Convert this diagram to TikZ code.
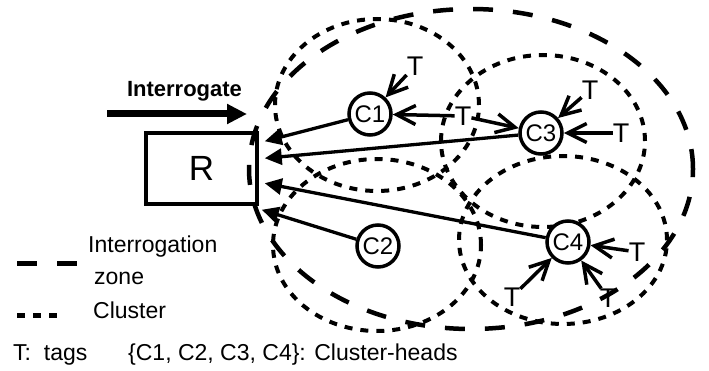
\documentclass[tikz,border=0pt]{standalone}
\usepackage{fontspec}
\setmainfont{Liberation Sans}
\usetikzlibrary{arrows.meta,backgrounds}
\begin{document}
\begin{tikzpicture}[x=1pt,y=-1pt,
  head/.style={circle,draw,line width=3.5pt,minimum size=42pt,inner sep=0pt,fill=white,font=\fontsize{24}{26}\selectfont},
  tag/.style={inner sep=0pt,font=\fontsize{27}{29}\selectfont},
  feed/.style={line width=3.5pt,-{Straight Barb[length=19pt,width=19pt]}},
  report/.style={line width=3.3pt,-{Triangle[length=17pt,width=16pt]}},
  zone/.style={line width=4.5pt,dash pattern=on 20pt off 20pt},
  cluster/.style={line width=4pt,dash pattern=on 8pt off 8pt},
  lbl/.style={anchor=base west,inner sep=0pt,font=\fontsize{23}{25}\selectfont}]
\useasboundingbox (0,0) rectangle (709,371);
% reader
\node[draw,line width=3.5pt,minimum width=111pt,minimum height=71pt,inner sep=0pt,font=\fontsize{35}{37}\selectfont] (r) at (201.5,168.5) {R};
% cluster heads
\node[head] (c1) at (370,114) {C1};
\node[head] (c2) at (378,246) {C2};
\node[head] (c3) at (541,133) {C3};
\node[head] (c4) at (568,242) {C4};
% tags
\node[tag] (t1) at (415,66) {T};
\node[tag] (t2) at (463,116) {T};
\node[tag] (t3) at (590,90) {T};
\node[tag] (t4) at (621,133) {T};
\node[tag] (t5) at (637,252) {T};
\node[tag] (t6) at (512,297) {T};
\node[tag] (t7) at (608,298) {T};
% zones
\begin{scope}[on background layer]
\draw[zone] (471,169) ellipse [x radius=222pt, y radius=160pt];
\draw[cluster] (377,105) ellipse [x radius=102pt, y radius=86pt];
\draw[cluster] (543,141) ellipse [x radius=102pt, y radius=86pt];
\draw[cluster] (377,245) ellipse [x radius=104pt, y radius=86pt];
\draw[cluster] (563,240) ellipse [x radius=104pt, y radius=84pt];
\end{scope}
% interrogate arrow
\node[font=\bfseries\fontsize{22}{24}\selectfont,anchor=base,inner sep=0pt] (it) at (184.5,97) {Interrogate};
\coordinate (ia) at (107,114);
\coordinate (ib) at (247,114);
\draw[line width=7pt,-{Triangle[length=20pt,width=19pt]}] (ia) -- (ib);
% reports to reader
\draw[report] (c1) -- ([shift={(6,10)}]r.north east);
\draw[report] (c3) -- ([shift={(6,27)}]r.north east);
\draw[report] (c4) -- ([shift={(6,52)}]r.north east);
\draw[report] (c2) -- ([shift={(3,4)}]r.south east);
% tags to heads
\draw[feed] (t1) -- (c1);
\draw[feed] (t2) -- (c1);
\draw[feed] (t2) -- (c3);
\draw[feed] (t3) -- (c3);
\draw[feed] (t4) -- (c3);
\draw[feed] (t5) -- (c4);
\draw[feed] (t6) -- (c4);
\draw[feed] (t7) -- (c4);
% legend
\coordinate (za) at (17,264);
\coordinate (zb) at (77,264);
\draw[zone,line width=5pt] (za) -- (zb);
\coordinate (ka) at (17,315);
\coordinate (kb) at (57,315);
\draw[cluster,line width=5pt] (ka) -- (kb);
\node[lbl] (l1) at (88,253) {Interrogation};
\node[lbl] (l2) at (94,284) {zone};
\node[lbl] (l3) at (93,318) {Cluster};
\node[lbl] (l4) at (13,360) {T:\ \ tags};
\node[lbl] (l5) at (128,360) {\{C1, C2, C3, C4\}: Cluster-heads};
\end{tikzpicture}
\end{document}
